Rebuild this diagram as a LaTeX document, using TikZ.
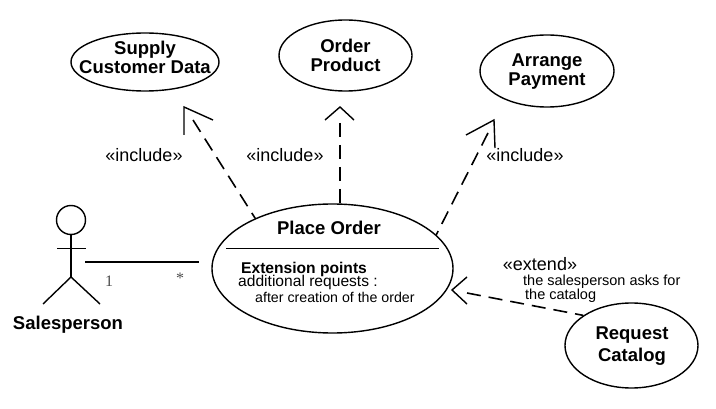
\documentclass[tikz,border=0pt]{standalone}
\usepackage{fontspec}
\setmainfont{Liberation Sans}
\newfontfamily\serifnum{Liberation Serif}
\usetikzlibrary{shapes}
\usetikzlibrary{positioning}

\tikzset{
    usecase/.style={draw, ellipse, inner sep=0pt, line width=1.4pt},
    casetext/.style={align=center, inner sep=0pt, font=\fontsize{18.5}{19}\selectfont\bfseries},
    stereo/.style={inner sep=0pt, font=\fontsize{18}{20}\selectfont},
    small/.style={anchor=west, inner sep=0pt, font=\fontsize{14.5}{16}\selectfont},
    mult/.style={inner sep=0pt, text=black!70, font=\fontsize{16}{18}\selectfont\serifnum},
    solidline/.style={line width=1.4pt},
    thinline/.style={line width=0.9pt},
    depline/.style={line width=1.6pt, dash pattern=on 14pt off 8pt},
}

\begin{document}
\begin{tikzpicture}[x=1pt, y=-1pt]
    \useasboundingbox (0,0) rectangle (716,409);

    \node(supply)[usecase, minimum width=148pt, minimum height=58pt] at (145,62){};
    \node(order)[usecase, minimum width=133pt, minimum height=71pt] at (345.5,55.5){};
    \node(arrange)[usecase, minimum width=134pt, minimum height=72pt] at (547,71){};
    \node(place)[usecase, minimum width=241pt, minimum height=129pt] at (332.5,268.5){};
    \node(request)[usecase, minimum width=133pt, minimum height=85pt] at (631.5,345.5){};

    \node(supplytext)[casetext] at (145,57.5){Supply\\Customer Data};
    \node(ordertext)[casetext] at (345.5,55.5){Order\\Product};
    \node(arrangetext)[casetext] at (547,71.5){Arrange\\Payment};
    \node(placetext)[casetext] at (329,228){Place Order};
    \node(requesttext)[casetext, font=\fontsize{18.5}{22}\selectfont\bfseries] at (632,346){Request\\Catalog};

    % compartment of the big ellipse
    \coordinate(divleft) at (226,248);
    \coordinate(divright) at (439,248);
    \draw[thinline] (divleft) -- (divright);
    \node(extpoints)[small, font=\fontsize{15.6}{17}\selectfont\bfseries] at (241,269){Extension points};
    \node(addreq)[small, font=\fontsize{15.6}{17}\selectfont] at (238,282){additional requests :};
    \node(aftercr)[small, font=\fontsize{14.2}{16}\selectfont] at (255,297){after creation of the order};

    % actor
    \node(head)[draw, circle, inner sep=0pt, minimum size=29pt, solidline] at (71,220){};
    \coordinate(hip) at (71,277);
    \coordinate(armleft) at (57,248);
    \coordinate(armright) at (86,248);
    \coordinate(footleft) at (43,304);
    \coordinate(footright) at (100,304);
    \draw[solidline] (head) -- (hip);
    \draw[thinline] (armleft) -- (armright);
    \draw[solidline] (footleft) -- (hip) -- (footright);
    \node(actor)[casetext] at (68,325){Salesperson};

    % association
    \coordinate(assocA) at (85,262);
    \coordinate(assocB) at (199,262);
    \draw[solidline] (assocA) -- (assocB);
    \node(multA)[mult] at (109,281){1};
    \node(multB)[mult] at (180,278){*};

    % include towards supply
    \coordinate(tipA) at (184,107);
    \coordinate(barbA1) at (184,135);
    \coordinate(barbA2) at (213,120);
    \coordinate(endA) at (193,120);
    \draw[depline] (endA) -- (place.147);
    \draw[solidline] (barbA1) -- (tipA) -- (barbA2);
    \node(inclA)[stereo] at (144,155){«include»};

    % include towards order
    \coordinate(tipB) at (340,107);
    \coordinate(barbB1) at (325,120);
    \coordinate(barbB2) at (354,120);
    \coordinate(endB) at (340,123);
    \coordinate(startB) at (340,204);
    \draw[depline] (endB) -- (startB);
    \draw[solidline] (barbB1) -- (tipB) -- (barbB2);
    \node(inclB)[stereo] at (285,155){«include»};

    % include towards arrange
    \coordinate(tipC) at (494,120);
    \coordinate(barbC1) at (466,135);
    \coordinate(barbC2) at (495,148);
    \coordinate(endC) at (488,133);
    \draw[depline] (endC) -- (place.18);
    \draw[solidline] (barbC1) -- (tipC) -- (barbC2);
    \node(inclC)[stereo] at (525,155){«include»};

    % extend
    \coordinate(tipD) at (452,290);
    \coordinate(barbD1) at (467,277);
    \coordinate(barbD2) at (467,304);
    \coordinate(endD) at (467,293);
    \draw[depline] (endD) -- (request.148);
    \draw[solidline] (barbD1) -- (tipD) -- (barbD2);
    \node(extend)[stereo] at (540,264){«extend»};
    \node(asksA)[small] at (523,282){the salesperson asks for};
    \node(asksB)[small] at (525,296){the catalog};

\end{tikzpicture}
\end{document}
